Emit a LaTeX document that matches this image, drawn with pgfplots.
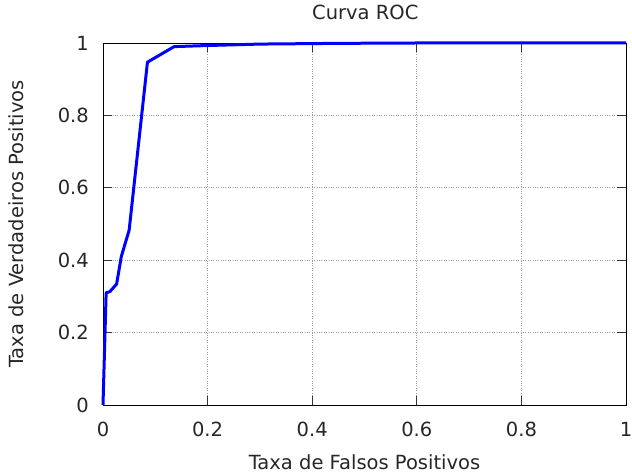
\documentclass[border=0pt]{standalone}
\usepackage{fontspec}
\setmainfont{DejaVu Sans}
\usepackage{pgfplots}
\pgfplotsset{compat=1.18}
\begin{document}
\begin{tikzpicture}
\begin{axis}[
  scale only axis,
  width=523pt, height=362pt,
  xmin=0, xmax=1, ymin=0, ymax=1,
  clip=false,
  xtick={0,0.2,...,1}, ytick={0,0.2,...,1},
  xticklabels={0,0.2,0.4,0.6,0.8,1},
  yticklabels={0,0.2,0.4,0.6,0.8,1},
  tick align=inside,
  major tick length=9pt,
  tick style={black!80, line width=0.8pt},
  axis line style={black, line width=0.8pt},
  grid=major,
  grid style={black!40, dotted, line width=0.7pt},
  /pgf/number format/assume math mode=true,
  ticklabel style={font=\fontsize{19.5}{23}\selectfont, text=black!85, inner sep=0pt},
  xticklabel style={anchor=base, yshift=-32pt},
  yticklabel style={anchor=east, xshift=-14pt},
  title={Curva ROC},
  title style={font=\fontsize{19.5}{23}\selectfont, text=black!85, inner sep=0pt,
    at={(axis description cs:0,1)}, anchor=base west, xshift=209pt, yshift=17pt},
  xlabel={Taxa de Falsos Positivos},
  ylabel={Taxa de Verdadeiros Positivos},
  label style={font=\fontsize{19.5}{23}\selectfont, text=black!85, inner sep=0pt},
  xlabel style={at={(axis description cs:0.5,0)}, anchor=base, yshift=-65pt},
  ylabel style={at={(axis description cs:0,0.5)}, anchor=base, yshift=79pt},
]
\addplot[blue, line width=3pt, line join=round] coordinates {
  (0,0) (0.006,0.31) (0.013,0.313) (0.026,0.334) (0.035,0.41) (0.05,0.483)
  (0.085,0.947) (0.136,0.99) (0.2,0.993) (0.3,0.997) (0.45,0.999) (0.6,1) (1,1)
};
\end{axis}
\pgfresetboundingbox
\path (current axis.south west) ++(-103pt,-70pt) coordinate (bbA);
\path (current axis.north east) ++(6pt,43pt) coordinate (bbB);
\useasboundingbox (bbA) rectangle (bbB);
\end{tikzpicture}
\end{document}
